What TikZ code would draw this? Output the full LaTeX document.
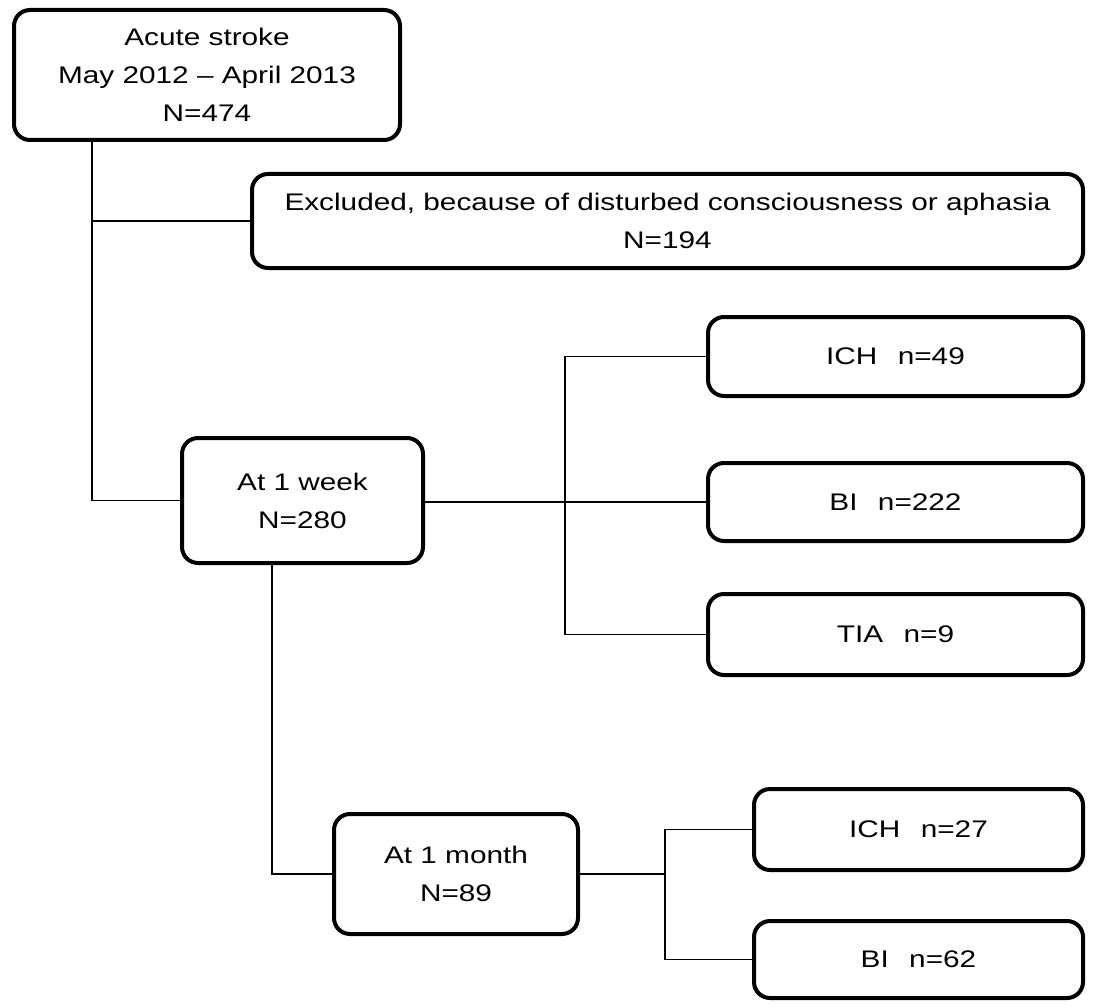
\documentclass[tikz,border=0pt]{standalone}
\usepackage{fontspec}
\setmainfont{Liberation Sans}[FakeStretch=1.24]
\begin{document}
\begin{tikzpicture}[x=1pt,y=-1pt,
  box/.style={draw, line width=4pt, rounded corners=16pt, align=center, inner sep=0pt,
    font=\fontsize{24}{38}\selectfont},
  conn/.style={line width=1.8pt}]
\useasboundingbox (0,0) rectangle (1094,1008);
\node[box, minimum width=386pt, minimum height=130pt] (acute) at (207,75) {Acute stroke\\May 2012 -- April 2013\\N=474};
\node[box, minimum width=831pt, minimum height=94pt] (excl) at (667.5,221) {Excluded, because of disturbed consciousness or aphasia\\N=194};
\node[box, minimum width=375pt, minimum height=79pt] (ich1) at (895.5,356.5) {ICH\hspace{0.85em}n=49};
\node[box, minimum width=375pt, minimum height=78pt] (bi1) at (895.5,502) {BI\hspace{0.85em}n=222};
\node[box, minimum width=375pt, minimum height=81pt] (tia) at (895.5,634.5) {TIA\hspace{0.85em}n=9};
\node[box, minimum width=241pt, minimum height=125pt] (week) at (302.5,500.5) {At 1 week\\N=280};
\node[box, minimum width=244pt, minimum height=120pt] (month) at (456,874) {At 1 month\\N=89};
\node[box, minimum width=329pt, minimum height=81pt] (ich2) at (918.5,829.5) {ICH\hspace{0.85em}n=27};
\node[box, minimum width=329pt, minimum height=77pt] (bi2) at (918.5,959.5) {BI\hspace{0.85em}n=62};
% connectors
\coordinate (t1) at (92,500.5);
\draw[conn] (acute.south -| t1) -- (t1) -- (week.west);
\draw[conn] (excl.west) -- (excl.west -| t1);
\coordinate (s1) at (565,502);
\draw[conn] (week.east |- bi1.west) -- (bi1.west);
\draw[conn] (ich1.west) -- (ich1.west -| s1) -- (tia.west -| s1) -- (tia.west);
\coordinate (w2) at (272,874);
\draw[conn] (week.south -| w2) -- (w2) -- (month.west);
\coordinate (s2) at (665,874);
\draw[conn] (month.east) -- (s2);
\draw[conn] (ich2.west) -- (ich2.west -| s2) -- (bi2.west -| s2) -- (bi2.west);
\end{tikzpicture}
\end{document}
